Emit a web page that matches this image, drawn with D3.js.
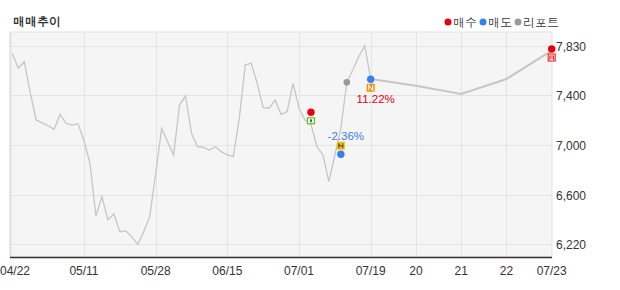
<!DOCTYPE html>
<html>
<head>
<meta charset="utf-8">
<script src="https://cdn.jsdelivr.net/npm/d3@7"></script>
<style>
  body { margin: 0; background: #fff; }
  svg { display: block; }
</style>
</head>
<body>
<div id="chart"></div>
<script>
// daily close, 04/22 .. 07/19 (idx 0-60), then 20, 21, 22, 07/23
const prices = [
  7768, 7647, 7700, 7450, 7228, 7205, 7181, 7152, 7274, 7201,
  7187, 7198, 7057, 6877, 6449, 6606, 6420, 6466, 6322, 6328,
  6282, 6220, 6322, 6444, 6790, 7160, 7052, 6944, 7349, 7422,
  7120, 7011, 7006, 6984, 7011, 6971, 6944, 6930, 7241, 7674,
  7687, 7525, 7327, 7323, 7390, 7274, 7295, 7525, 7323, 7228,
  7193, 7011, 6944, 6728, 6944, 7160, 7533, 7633, 7741, 7830,
  7560, 7506, 7438, 7560, 7790
]
const xLabels = ['04/22', '05/11', '05/28', '06/15', '07/01', '07/19', '20', '21', '22', '07/23']
const xLabelIdx = [0, 12, 24, 36, 48, 60, 61, 62, 63, 64]
const yTickLabels = ['6,220', '6,600', '7,000', '7,400', '7,830']

const signalIdx = [50, 55, 56, 60, 64]
const signalType = ['buy', 'sell', 'report', 'sell', 'buy']
const signalPrice = [7290, 6950, 7533, 7558, 7803]
const signalReturn = ['', '-2.36%', '', '11.22%', '']
const signalIcon = ['buyA', 'sellA', '', 'sellB', 'buyB']

const legendNames = ['매수', '매도', '리포트']
const legendTypes = ['buy', 'sell', 'report']

const COLORS = {buy: '#e8000b', sell: '#3a7ff0', report: '#9a9a9a'}
const ICON_SIDE = {buyA: 1, sellA: -1, sellB: 1, buyB: 1}
const FONT_NUM = "'Liberation Sans', Arial, sans-serif"
const FONT_KR = "Dotum, Gulim, 'Noto Sans CJK KR', sans-serif"

const width = 620
const height = 290
const plot = {left: 10, right: 552, top: 32, bottom: 257}
const SPLIT_IDX = 60
const SPLIT_X = 370.7

const yMin = d3.min(prices)
const yMax = d3.max(prices)

const xScale = d3.scaleLinear()
  .domain([0, SPLIT_IDX, prices.length - 1])
  .range([12.3, SPLIT_X, plot.right - 0.3])
const yScale = d3.scaleLinear()
  .domain([yMin, yMax])
  .range([244.3, 45.7])

const svg = d3.select('#chart')
  .append('svg')
  .attr('width', width)
  .attr('height', height)

// title
svg.append('text')
  .text('매매추이')
  .attr('x', 13).attr('y', 26)
  .attr('font-family', FONT_KR).attr('font-size', 12).attr('font-weight', 'bold')
  .attr('fill', '#333')

// legend
const legend = svg.append('g').attr('transform', 'translate(448, 22)')
let lx = 0
legendNames.forEach((name, i) => {
  legend.append('circle')
    .attr('cx', lx).attr('cy', 0).attr('r', 3.5)
    .attr('fill', COLORS[legendTypes[i]])
  const t = legend.append('text')
    .text(name)
    .attr('x', lx + 5).attr('y', 4.5)
    .attr('font-family', FONT_KR).attr('font-size', 12)
    .attr('fill', '#333')
  lx += 5 + t.node().getComputedTextLength() + 6
})

// plot background
svg.append('rect')
  .attr('x', plot.left).attr('y', plot.top)
  .attr('width', plot.right - plot.left).attr('height', plot.bottom - plot.top)
  .attr('fill', '#f5f5f5')
  .attr('stroke', '#e2e2e2').attr('stroke-width', 1)

svg.append('line')
  .attr('x1', plot.left + 0.5).attr('x2', plot.left + 0.5)
  .attr('y1', plot.top).attr('y2', plot.bottom)
  .attr('stroke', '#e2e2e2').attr('stroke-width', 2)

// horizontal grid + y labels
const yTicks = d3.range(yTickLabels.length).map(i => yMin + i * (yMax - yMin) / (yTickLabels.length - 1))
svg.selectAll('g.group_y')
  .data(yTicks)
  .enter()
  .append('g')
  .classed('group_y', true)
  .attr('transform', d => `translate(0, ${Math.round(yScale(d)) + 0.5})`)
  .call(g => {
    g.append('line')
      .attr('x1', plot.left).attr('x2', plot.right)
      .attr('stroke', '#e4e4e4').attr('stroke-width', 1)
    g.append('text')
      .text((d, i) => yTickLabels[i])
      .attr('x', 556).attr('dy', 4.5)
      .attr('font-family', FONT_NUM).attr('font-size', 12)
      .attr('fill', '#333')
  })

// vertical grid + x labels
svg.selectAll('g.group_x')
  .data(xLabelIdx)
  .enter()
  .append('g')
  .classed('group_x', true)
  .call(g => {
    g.filter((d, i) => i > 0 && i < xLabelIdx.length - 1)
      .append('line')
      .attr('x1', d => Math.round(xScale(d)) + 0.5).attr('x2', d => Math.round(xScale(d)) + 0.5)
      .attr('y1', plot.top).attr('y2', plot.bottom)
      .attr('stroke', '#e4e4e4').attr('stroke-width', 1)
    g.append('text')
      .text((d, i) => xLabels[i])
      .attr('y', 275)
      .attr('text-anchor', 'middle')
      .attr('font-family', FONT_NUM).attr('font-size', 12)
      .attr('fill', '#333')
      .attr('x', function (d) {
        const half = this.getComputedTextLength() / 2
        return Math.max(xScale(d), half)
      })
  })

// bottom axis line
svg.append('line')
  .attr('x1', plot.left).attr('x2', plot.right)
  .attr('y1', plot.bottom + 0.5).attr('y2', plot.bottom + 0.5)
  .attr('stroke', '#333').attr('stroke-width', 1.5)

// price line: daily part thin, last days thicker
const line = d3.line()
  .x(d => xScale(d.i))
  .y(d => yScale(d.v))

const pts = prices.map((v, i) => ({i, v}))
svg.append('path')
  .attr('d', line(pts.filter(d => d.i <= SPLIT_IDX)))
  .attr('fill', 'none').attr('stroke', '#c6c6c6').attr('stroke-width', 1.3)
svg.append('path')
  .attr('d', line(pts.filter(d => d.i >= SPLIT_IDX)))
  .attr('fill', 'none').attr('stroke', '#c6c6c6').attr('stroke-width', 2)

// signal icons
function drawIcon (g, kind) {
  if (kind === 'buyA') {
    g.append('rect').attr('x', -3.5).attr('y', -3).attr('width', 7).attr('height', 6)
      .attr('fill', '#fff').attr('stroke', '#5cbf2a').attr('stroke-width', 1.2)
    g.append('rect').attr('x', -1).attr('y', -1.5).attr('width', 2).attr('height', 3).attr('fill', '#3a8c12')
  } else if (kind === 'sellA') {
    g.append('rect').attr('x', -4).attr('y', -4).attr('width', 8).attr('height', 8).attr('fill', '#f0c020')
    g.append('path').attr('d', 'M-2,-2.5V2.5M2,-2.5V2.5M-2,-1L2,1').attr('stroke', '#6b4e00').attr('stroke-width', 1.1).attr('fill', 'none')
  } else if (kind === 'sellB') {
    g.append('rect').attr('x', -4).attr('y', -4).attr('width', 8).attr('height', 8).attr('fill', '#ff8a00')
    g.append('path').attr('d', 'M-2,2.5V-2.5L2,2.5V-2.5').attr('stroke', '#fff').attr('stroke-width', 1.1).attr('fill', 'none')
  } else if (kind === 'buyB') {
    g.append('rect').attr('x', -3.5).attr('y', -3.5).attr('width', 7).attr('height', 7)
      .attr('fill', '#fff').attr('stroke', '#f03030').attr('stroke-width', 1.2)
    g.append('path').attr('d', 'M-1.8,2.5V-1.5H1.8V2.5M-1.8,0.5H1.8').attr('stroke', '#f03030').attr('stroke-width', 1.1).attr('fill', 'none')
  }
}

svg.selectAll('g.signal')
  .data(signalIdx.map((idx, k) => ({idx, k})))
  .enter()
  .append('g')
  .classed('signal', true)
  .attr('transform', d => `translate(${xScale(d.idx)}, ${yScale(signalPrice[d.k])})`)
  .each(function (d) {
    const g = d3.select(this)
    const type = signalType[d.k]
    const icon = signalIcon[d.k]
    g.append('circle')
      .attr('r', type === 'report' ? 3.3 : 3.7)
      .attr('fill', COLORS[type])
    if (icon) {
      const side = ICON_SIDE[icon]
      drawIcon(g.append('g').attr('transform', `translate(0, ${side * 8.5})`), icon)
      if (signalReturn[d.k]) {
        g.append('text')
          .text(signalReturn[d.k])
          .attr('x', 5)
          .attr('y', side > 0 ? 24 : -14)
          .attr('text-anchor', 'middle')
          .attr('font-family', FONT_NUM).attr('font-size', 11.5)
          .attr('fill', side > 0 ? '#e8000b' : '#3a7ff0')
      }
    }
  })
</script>
</body>
</html>
